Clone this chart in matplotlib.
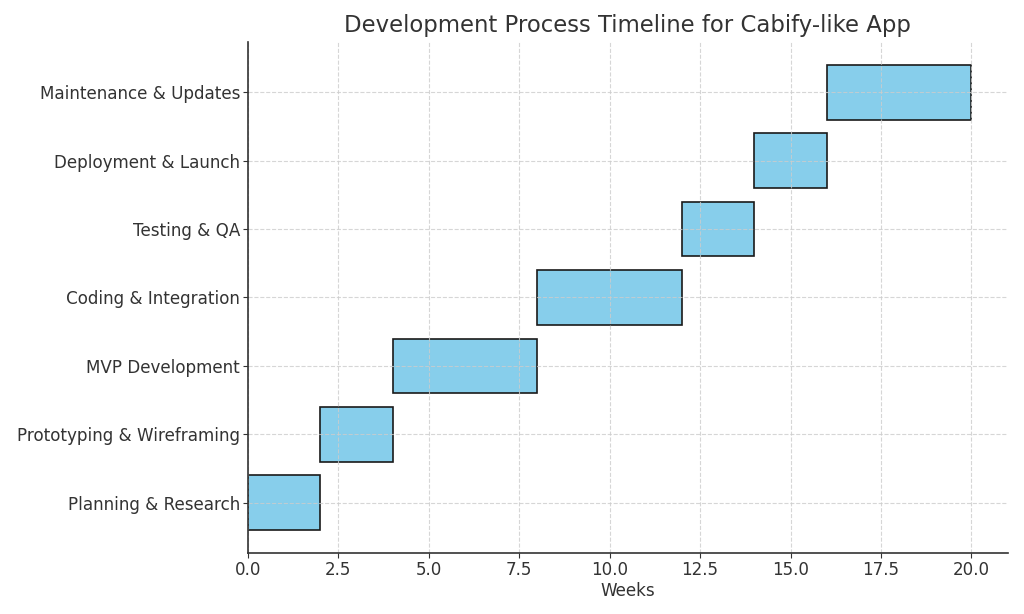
import matplotlib
matplotlib.use("Agg")
import matplotlib.pyplot as plt

tasks = ["Planning & Research", "Prototyping & Wireframing", "MVP Development",
         "Coding & Integration", "Testing & QA", "Deployment & Launch",
         "Maintenance & Updates"]
starts = [0, 2, 4, 8, 12, 14, 16]
durations = [2, 2, 4, 4, 2, 2, 4]

plt.rcParams['font.family'] = ['DejaVu Sans']
text_color = '#333333'

fig, ax = plt.subplots(figsize=(10.24, 6.14), dpi=100)
ax.barh(tasks, durations, left=starts, color='skyblue', edgecolor='#1a1a1a',
        linewidth=1.2, height=0.8)

ax.set_xlim(left=0)
ax.set_xlabel('Weeks', fontsize=12.1, color=text_color, labelpad=2)
ax.set_title('Development Process Timeline for Cabify-like App', fontsize=16.4,
             color=text_color, pad=7)
ax.tick_params(axis='both', labelsize=12.1, colors=text_color, pad=2)
ax.grid(True, linestyle='--', color='#cccccc', alpha=0.8)
ax.set_axisbelow(False)
for s in ['top', 'right']:
    ax.spines[s].set_visible(False)
for s in ['left', 'bottom']:
    ax.spines[s].set_color(text_color)
    ax.spines[s].set_linewidth(1.2)
    ax.spines[s].set_zorder(5)

fig.subplots_adjust(left=0.242, right=0.984, top=0.932, bottom=0.099)
fig.savefig('out.png', dpi=100)
